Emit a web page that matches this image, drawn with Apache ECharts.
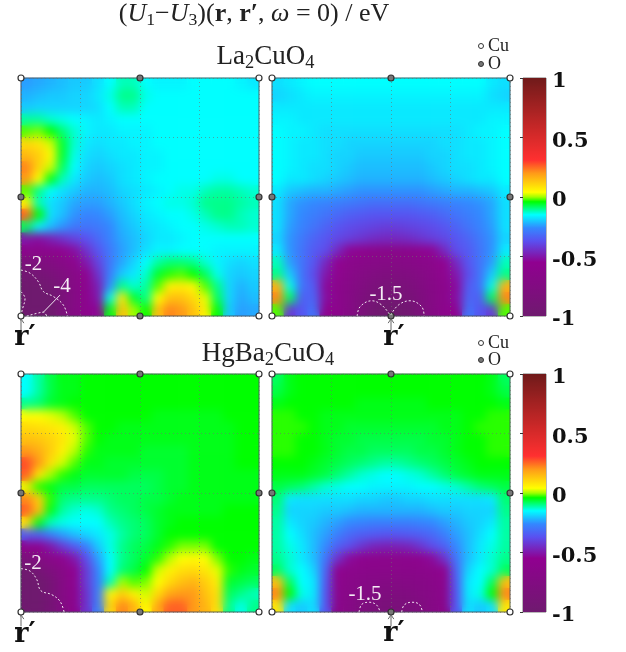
<!DOCTYPE html>
<html><head><meta charset="utf-8">
<style>html,body{margin:0;padding:0;background:#fff}#c{width:626px;height:652px}</style>
<script src="https://cdn.jsdelivr.net/npm/echarts@6/dist/echarts.min.js"></script>
</head><body><div id="c"></div>
<script>
// Field values, in hundredths of eV; top row first.
const la_left=[
[-24,-23,-22,-21,-20,-20,-18,-15,-12,-12,-15,-16,-16,-16,-15,-15,-15,-15,-16,-17],
[-22,-21,-20,-20,-19,-19,-17,-14,-10,-10,-14,-15,-15,-15,-15,-15,-15,-15,-15,-15],
[-20,-19,-19,-19,-19,-19,-18,-15,-12,-12,-15,-15,-15,-15,-15,-15,-15,-15,-15,-15],
[-11,-11,-13,-14,-15,-16,-17,-16,-15,-15,-15,-15,-15,-15,-15,-15,-15,-15,-15,-15],
[-2,-1,-4,-9,-13,-16,-17,-17,-16,-16,-16,-15,-15,-15,-15,-15,-15,-15,-15,-15],
[10,8,2,-6,-13,-17,-18,-17,-17,-16,-16,-15,-15,-15,-15,-15,-15,-15,-15,-15],
[15,12,5,-6,-14,-18,-19,-18,-17,-17,-16,-16,-15,-15,-15,-15,-15,-15,-15,-15],
[22,11,2,-8,-15,-19,-20,-19,-18,-17,-16,-16,-15,-15,-15,-15,-15,-15,-15,-15],
[20,4,-5,-12,-17,-20,-21,-20,-18,-17,-16,-15,-15,-15,-15,-15,-14,-14,-15,-15],
[-2,-10,-15,-18,-20,-22,-22,-21,-19,-18,-17,-16,-15,-14,-14,-12,-11,-11,-12,-13],
[6,-12,-18,-20,-23,-24,-24,-22,-20,-18,-16,-15,-14,-14,-13,-10,-10,-10,-11,-12],
[26,-4,-18,-21,-25,-27,-26,-24,-21,-19,-17,-16,-15,-15,-14,-12,-10,-10,-12,-13],
[-8,-16,-21,-25,-29,-30,-29,-26,-22,-20,-18,-17,-16,-15,-15,-14,-13,-12,-12,-13],
[-50,-52,-48,-44,-40,-37,-32,-27,-23,-21,-19,-17,-17,-16,-15,-15,-15,-15,-15,-15],
[-62,-62,-60,-57,-52,-44,-36,-29,-24,-21,-18,-16,-16,-15,-15,-15,-16,-16,-16,-16],
[-85,-80,-75,-68,-60,-50,-40,-29,-23,-19,-15,-11,-9,-9,-10,-13,-16,-18,-19,-18],
[-95,-90,-85,-78,-68,-58,-44,-28,-20,-17,-13,-6,-3,-2,-4,-8,-14,-19,-20,-19],
[-100,-100,-95,-85,-70,-60,-48,-25,-10,-13,-11,-2,6,7,5,-2,-10,-19,-22,-20],
[-100,-100,-100,-85,-72,-60,-50,-14,8,-6,-10,4,14,14,10,3,-8,-19,-23,-21],
[-100,-100,-100,-85,-72,-62,-54,-5,14,0,-4,14,22,20,14,6,-4,-20,-24,-23]];
const la_right=[
[-18,-17,-16,-15,-15,-15,-15,-15,-15,-15,-15,-15,-15,-15,-15,-15,-15,-15,-17,-18],
[-19,-18,-17,-16,-16,-16,-16,-16,-16,-16,-16,-16,-16,-16,-16,-16,-16,-16,-18,-19],
[-17,-17,-17,-17,-17,-17,-17,-17,-17,-17,-17,-17,-17,-17,-17,-17,-17,-17,-17,-17],
[-16,-16,-17,-17,-17,-17,-17,-17,-17,-17,-17,-17,-17,-17,-17,-17,-17,-17,-16,-16],
[-15,-16,-16,-17,-18,-18,-18,-18,-18,-18,-18,-18,-18,-18,-18,-18,-17,-16,-16,-15],
[-15,-16,-17,-17,-18,-18,-19,-19,-19,-19,-19,-19,-19,-19,-18,-18,-17,-17,-16,-15],
[-15,-16,-17,-17,-18,-19,-19,-20,-20,-20,-20,-20,-20,-19,-19,-18,-17,-17,-16,-15],
[-15,-16,-17,-18,-18,-19,-20,-21,-21,-21,-21,-21,-21,-20,-19,-18,-18,-17,-16,-15],
[-15,-17,-17,-18,-19,-20,-21,-22,-22,-22,-22,-22,-22,-21,-20,-19,-18,-17,-17,-15],
[-17,-20,-21,-22,-22,-23,-24,-25,-25,-25,-25,-25,-25,-24,-23,-22,-22,-21,-20,-17],
[-18,-23,-25,-26,-27,-28,-29,-30,-31,-31,-31,-31,-30,-29,-28,-27,-26,-25,-23,-18],
[-18,-23,-26,-28,-30,-32,-34,-35,-36,-36,-36,-36,-35,-34,-32,-30,-28,-26,-23,-18],
[-18,-24,-27,-30,-33,-36,-38,-39,-40,-41,-41,-40,-39,-38,-36,-33,-30,-27,-24,-18],
[-19,-25,-29,-33,-36,-39,-41,-43,-45,-46,-46,-45,-43,-41,-39,-36,-33,-29,-25,-19],
[-17,-25,-30,-35,-38,-46,-54,-58,-62,-64,-64,-62,-58,-54,-46,-38,-35,-30,-25,-17],
[-12,-24,-30,-36,-46,-55,-63,-66,-68,-70,-70,-68,-66,-63,-55,-46,-36,-30,-24,-12],
[-10,-20,-30,-38,-50,-58,-66,-72,-75,-78,-78,-75,-72,-66,-58,-50,-38,-30,-20,-10],
[16,-14,-30,-35,-53,-62,-68,-76,-82,-86,-86,-82,-76,-68,-62,-53,-35,-30,-14,16],
[22,-8,-34,-33,-52,-62,-70,-80,-88,-92,-92,-88,-80,-70,-62,-52,-33,-34,-8,22],
[-2,-42,-36,-30,-56,-62,-72,-84,-95,-100,-100,-95,-84,-72,-62,-56,-30,-36,-42,-2]];
const hg_left=[
[-15,-11,-7,-5,-5,-4,-4,-4,-4,-4,-4,-4,-4,-4,-4,-4,-4,-4,-4,-4],
[-15,-11,-7,-5,-5,-4,-4,-4,-4,-4,-4,-4,-4,-4,-4,-4,-4,-4,-4,-4],
[-10,-9,-6,-5,-4,-4,-4,-4,-4,-4,-4,-4,-4,-4,-4,-4,-4,-4,-4,-4],
[4,4,3,1,-2,-4,-4,-4,-4,-4,-4,-5,-5,-5,-5,-5,-5,-4,-4,-4],
[10,9,8,6,2,-2,-4,-4,-5,-5,-5,-5,-5,-5,-5,-5,-5,-5,-4,-4],
[14,13,11,8,3,-2,-4,-5,-5,-5,-5,-5,-5,-5,-5,-5,-5,-5,-4,-4],
[20,17,12,6,1,-3,-5,-5,-5,-5,-6,-6,-6,-6,-5,-5,-5,-5,-4,-4],
[28,20,9,2,-2,-5,-5,-6,-6,-6,-6,-6,-6,-6,-5,-5,-5,-5,-4,-4],
[26,8,0,-3,-5,-6,-6,-6,-6,-7,-7,-7,-6,-6,-5,-5,-5,-5,-5,-5],
[3,-3,-5,-7,-7,-8,-8,-8,-8,-8,-8,-7,-6,-6,-5,-5,-5,-5,-5,-5],
[22,12,-3,-9,-10,-10,-10,-9,-8,-8,-7,-7,-6,-5,-5,-5,-5,-5,-5,-5],
[26,14,-5,-11,-13,-14,-13,-10,-9,-8,-7,-6,-5,-5,-5,-5,-5,-4,-4,-4],
[8,-5,-12,-14,-15,-15,-15,-12,-10,-9,-8,-6,-5,-4,-4,-4,-4,-4,-4,-4],
[-34,-34,-28,-24,-21,-19,-17,-14,-11,-9,-8,-6,-4,-4,-4,-4,-4,-4,-4,-4],
[-58,-55,-50,-42,-35,-28,-20,-14,-10,-8,-7,-5,-3,-1,-1,-1,-4,-4,-4,-4],
[-85,-75,-65,-58,-50,-38,-24,-15,-10,-8,-6,-3,1,4,5,4,-1,-4,-4,-5],
[-100,-90,-80,-68,-55,-42,-27,-15,-9,-7,-4,2,6,9,10,8,3,-3,-5,-6],
[-100,-100,-90,-72,-58,-42,-28,-12,0,-2,-1,4,10,14,16,12,7,-6,-7,-8],
[-100,-100,-90,-72,-60,-44,-28,5,12,6,2,10,18,20,20,14,9,-8,-10,-12],
[-100,-100,-90,-75,-60,-44,-28,10,22,16,4,18,26,26,20,16,9,-10,-14,-10]];
const hg_right=[
[-8,-5,-4,-4,-4,-4,-4,-4,-4,-4,-4,-4,-4,-4,-4,-4,-4,-4,-5,-8],
[-7,-5,-4,-4,-4,-4,-4,-4,-4,-4,-4,-4,-4,-4,-4,-4,-4,-4,-5,-7],
[-5,-4,-4,-4,-4,-4,-4,-5,-5,-5,-5,-5,-5,-4,-4,-4,-4,-4,-4,-5],
[-3,-3,-4,-4,-5,-5,-5,-5,-5,-5,-5,-5,-5,-5,-5,-5,-4,-4,-3,-3],
[-3,-3,-3,-4,-5,-5,-6,-6,-6,-6,-6,-6,-6,-6,-5,-5,-4,-3,-3,-3],
[-3,-3,-4,-4,-5,-6,-6,-7,-7,-7,-7,-7,-7,-6,-6,-5,-4,-4,-3,-3],
[-3,-3,-4,-4,-5,-6,-7,-7,-8,-8,-8,-8,-7,-7,-6,-5,-4,-4,-3,-3],
[-4,-4,-4,-5,-6,-7,-8,-9,-10,-11,-11,-10,-9,-8,-7,-6,-5,-4,-4,-4],
[-5,-5,-5,-6,-7,-9,-11,-13,-14,-15,-15,-14,-13,-11,-9,-7,-6,-5,-5,-5],
[-7,-8,-9,-11,-13,-14,-15,-15,-16,-16,-16,-16,-15,-15,-14,-13,-11,-9,-8,-7],
[-9,-17,-18,-18,-18,-18,-18,-19,-19,-20,-20,-19,-19,-18,-18,-18,-18,-18,-17,-9],
[-10,-19,-19,-19,-20,-20,-21,-22,-22,-22,-22,-22,-22,-21,-20,-20,-19,-19,-19,-10],
[-11,-17,-19,-20,-22,-24,-26,-27,-28,-28,-28,-28,-27,-26,-24,-22,-20,-19,-17,-11],
[-11,-15,-18,-21,-24,-28,-32,-34,-35,-36,-36,-35,-34,-32,-28,-24,-21,-18,-15,-11],
[-11,-14,-17,-21,-26,-34,-38,-43,-47,-48,-48,-47,-43,-38,-34,-26,-21,-17,-14,-11],
[-10,-13,-17,-21,-30,-44,-53,-58,-61,-62,-62,-61,-58,-53,-44,-30,-21,-17,-13,-10],
[-8,-13,-15,-19,-33,-56,-62,-63,-64,-65,-65,-64,-63,-62,-56,-33,-19,-15,-13,-8],
[14,-8,-15,-17,-35,-60,-66,-68,-70,-72,-72,-70,-68,-66,-60,-35,-17,-15,-8,14],
[22,-4,-14,-17,-36,-62,-68,-72,-75,-78,-78,-75,-72,-68,-62,-36,-17,-14,-4,22],
[8,-18,-20,-18,-36,-64,-70,-78,-82,-85,-85,-82,-78,-70,-64,-36,-18,-20,-18,8]];

const cuSites=[[0,0],[1,0],[0,1],[1,1]];
const oSites=[[.5,0],[0,.5],[1,.5],[.5,1]];
const colorbarTicks=[-1,-.5,0,.5,1];

// Contours, in lattice units of the panel
const c_la_left=[
 [[0,.193],[.038,.18],[.073,.144],[.094,.103],[.136,.082],[.178,.046],[.195,0]],
 [[0,.102],[.017,.074],[.007,.032],[0,.004]],
 [[.024,0],[.066,.011],[.094,.016],[.108,0]]];
const c_la_right=[
 [[.358,0],[.37,.039],[.419,.064],[.461,.046],[.496,.004]],
 [[.499,.004],[.531,.046],[.58,.064],[.629,.039],[.639,0]]];
const c_hg_left=[
 [[0,.182],[.038,.172],[.066,.137],[.083,.09],[.129,.073],[.164,.045],[.181,0]]];
const c_hg_right=[
 [[.366,0],[.377,.032],[.409,.041],[.44,.029],[.454,0]],
 [[.545,0],[.555,.029],[.587,.041],[.619,.032],[.632,0]]];
const leader=[[.164,.088],[.094,.016]];

const panels=[
 {rows:la_left, c:c_la_left, l:21,t:78, r:0},
 {rows:la_right,c:c_la_right,l:272,t:78, r:.5},
 {rows:hg_left, c:c_hg_left, l:21,t:374,r:0},
 {rows:hg_right,c:c_hg_right,l:272,t:374,r:.5}];
const W=238,H=238,CELLS=20;

const stops=[[-100,'#6f1a6f'],[-55,'#900090'],[-37,'#5a50f0'],[-26,'#3388ff'],[-15,'#00ffff'],[-4,'#00ff00'],[0,'#a0ff00'],[4,'#ffff00'],[20,'#ff9a18'],[31,'#ff3030'],[50,'#d82a2a'],[100,'#701a1a']];
const hex=s=>[1,3,5].map(i=>parseInt(s.substr(i,2),16));
function colorAt(v){for(let i=1;i<stops.length;i++){if(v<=stops[i][0]){const a=stops[i-1],b=stops[i],f=(v-a[0])/(b[0]-a[0]),A=hex(a[1]),B=hex(b[1]);
 return 'rgb('+A.map((x,k)=>Math.round(x+(B[k]-x)*f)).join(',')+')';}}return stops[stops.length-1][1];}
const ramp=[];for(let v=-100;v<=100;v++)ramp.push(colorAt(v));

const grid=[],xAxis=[],yAxis=[],series=[];
const cats=Array.from({length:CELLS},(_,i)=>i);
panels.forEach((p,i)=>{
 grid.push({left:p.l,top:p.t,width:W,height:H,show:false,zlevel:0});
 xAxis.push({type:'category',data:cats,gridIndex:i,show:false});
 yAxis.push({type:'category',data:cats,gridIndex:i,show:false,inverse:true});
 const d=[];p.rows.forEach((r,y)=>r.forEach((v,x)=>d.push([x,y,v])));
 series.push({type:'heatmap',xAxisIndex:i,yAxisIndex:i,data:d,silent:true,progressive:0,animation:false,zlevel:0,emphasis:{disabled:true}});
});
panels.forEach((p,i)=>{
 const g=grid.length;
 grid.push({left:p.l,top:p.t,width:W,height:H,show:true,backgroundColor:'transparent',borderColor:'rgba(70,80,90,.85)',borderWidth:1,zlevel:1});
 const ax={type:'value',min:0,max:1,interval:.25,gridIndex:g,zlevel:1,axisLabel:{show:false},axisLine:{show:false},axisTick:{show:false},
  splitLine:{show:true,lineStyle:{type:[1,3],color:'rgba(110,110,110,.6)',width:1}}};
 xAxis.push(ax);yAxis.push(Object.assign({},ax));
 const base={xAxisIndex:g,yAxisIndex:g,zlevel:1,silent:true,animation:false};
 p.c.forEach(line=>series.push(Object.assign({},base,{type:'line',data:line,smooth:.4,symbol:'none',clip:false,lineStyle:{color:'rgba(255,255,255,.9)',width:1,type:[2,2]}})));
 if(i===0)series.push(Object.assign({},base,{type:'line',data:leader,symbol:'none',clip:false,lineStyle:{color:'rgba(255,255,255,.9)',width:1}}));
 series.push(Object.assign({},base,{type:'line',data:[[p.r,-.06],[p.r,-.012]],symbol:'none',clip:false,lineStyle:{color:'#666',width:1}}));
 series.push(Object.assign({},base,{type:'line',data:[[p.r-.012,-.03],[p.r,-.012],[p.r+.012,-.03]],symbol:'none',clip:false,lineStyle:{color:'#666',width:1}}));
 series.push(Object.assign({},base,{type:'scatter',data:cuSites,symbolSize:6,clip:false,itemStyle:{color:'#fff',borderColor:'#333',borderWidth:1.2,opacity:1}}));
 series.push(Object.assign({},base,{type:'scatter',data:oSites,symbolSize:6,clip:false,itemStyle:{color:'#777',borderColor:'#333',borderWidth:1.2,opacity:1}}));
});
[78,374].forEach(t=>{
 const g=grid.length;
 grid.push({left:523,top:t,width:23,height:H,show:true,backgroundColor:'transparent',borderColor:'#777',borderWidth:1,zlevel:1});
 xAxis.push({type:'value',min:0,max:1,gridIndex:g,show:false,zlevel:1});
 yAxis.push({type:'value',min:-1,max:1,interval:.5,gridIndex:g,position:'right',zlevel:1,
  axisLine:{show:false},splitLine:{show:false},
  axisTick:{show:true,inside:true,length:3,lineStyle:{color:'#333'}},
  axisLabel:{show:true,margin:6,customValues:colorbarTicks,formatter:v=>'{a|'+v+'}',
   rich:{a:{fontFamily:'DejaVu Serif',fontWeight:'bold',fontSize:21,color:'#111',padding:[8,0,0,0]}}}});
});

const gradStops=[];for(let v=-100;v<=100;v+=1)gradStops.push({offset:(100-v)/200,color:colorAt(v)});
gradStops.reverse();
const gfx=[];
[78,374].forEach(t=>gfx.push({type:'rect',shape:{x:523,y:t,width:23,height:H},zlevel:1,z:1,silent:true,
 style:{fill:new echarts.graphic.LinearGradient(0,0,0,1,gradStops)}}));
const txt=(x,y,text,o)=>gfx.push({type:'text',x,y,zlevel:1,z:10,silent:true,style:Object.assign({text,fontFamily:'Liberation Serif',fontSize:18,fill:'#222',align:'center',verticalAlign:'middle'},o||{})});
[[46,64],[343,360]].forEach(([a,b])=>{
 gfx.push({type:'circle',shape:{cx:481,cy:a,r:2.5},zlevel:1,z:10,silent:true,style:{fill:'#fff',stroke:'#333',lineWidth:1}});
 gfx.push({type:'circle',shape:{cx:481,cy:b,r:2.5},zlevel:1,z:10,silent:true,style:{fill:'#777',stroke:'#333',lineWidth:1}});
 txt(488,a,'Cu',{align:'left'});txt(488,b,'O',{align:'left'});
});
const rp={fontFamily:'DejaVu Serif',fontWeight:'bold',fontSize:27,fill:'#111'};
[[25,338],[394,338],[25,635],[394,634]].forEach(([x,y])=>txt(x,y,'r′',rp));
const wt={fill:'rgba(255,255,255,.92)',fontSize:21};
txt(33.5,264,'-2',wt);txt(62,286,'-4',wt);txt(386,294,'-1.5',wt);txt(33,563,'-2',wt);txt(365,594,'-1.5',wt);

const F='Liberation Serif';
const tok=(sz,o)=>Object.assign({fontFamily:F,fontWeight:'normal',fontSize:sz,lineHeight:sz+4,color:'#222'},o||{});
const rich=(sz)=>({n:tok(sz),i:tok(sz,{fontStyle:'italic'}),b:tok(sz,{fontWeight:'bold'}),
 s:tok(sz*.68,{lineHeight:sz*.68,verticalAlign:'bottom'})});
const ts=(sz)=>({fontWeight:'normal',rich:rich(sz)});
const title=[
 {text:'{n|(}{i|U}{s|1}{n|−}{i|U}{s|3}{n|)(}{b|r}{n|, }{b|r′}{n|, }{i|ω}{n| = 0) / eV}',left:254,top:-1,padding:0,textAlign:'center',zlevel:1,textStyle:ts(26)},
 {text:'{n|La}{s|2}{n|CuO}{s|4}',left:265.5,top:41,padding:0,textAlign:'center',zlevel:1,textStyle:ts(27)},
 {text:'{n|HgBa}{s|2}{n|CuO}{s|4}',left:268,top:338,padding:0,textAlign:'center',zlevel:1,textStyle:ts(27)}];

const chart=echarts.init(document.getElementById('c'),null,{renderer:'canvas'});
chart.setOption({animation:false,backgroundColor:'#fff',title,grid,xAxis,yAxis,series,graphic:{elements:gfx},
 visualMap:{type:'continuous',show:false,min:-100,max:100,dimension:2,seriesIndex:[0,1,2,3],inRange:{color:ramp}}});

// Soften the cell edges of the field layer only (marks and text live on the layer above).
function soften(){
 const root=document.querySelector('#c > div');
 const cv=root.querySelectorAll('canvas');
 if(cv.length<2||root.querySelector('.soft'))return;
 cv.forEach((c,i)=>{c.style.zIndex=i===0?0:2;});
 panels.forEach(p=>{const d=document.createElement('div');d.className='soft';
  d.style.cssText=`position:absolute;left:${p.l}px;top:${p.t}px;width:${W}px;height:${H}px;z-index:1;backdrop-filter:blur(5px);-webkit-backdrop-filter:blur(5px)`;
  root.appendChild(d);});
}
soften();chart.on('finished',soften);
</script></body></html>
